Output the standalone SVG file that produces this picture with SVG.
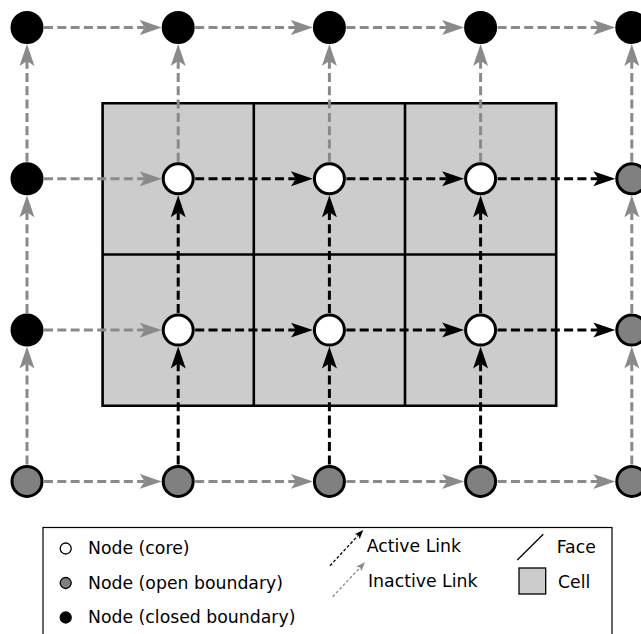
<svg xmlns="http://www.w3.org/2000/svg" width="641" height="634" viewBox="0 0 641 634">
<style>
.cell{fill:#cccccc;stroke:none}
.face{stroke:#000;stroke-width:2.6;fill:none}
.act{stroke:#000;stroke-width:3;stroke-dasharray:9 4.3;fill:none;marker-end:url(#ha)}
.ina{stroke:#8a8a8a;stroke-width:3;stroke-dasharray:9 4.3;fill:none;marker-end:url(#hi)}
.core{fill:#fff;stroke:#000;stroke-width:3}
.open{fill:#808080;stroke:#000;stroke-width:3}
.closed{fill:#000;stroke:#000;stroke-width:3}
.lt{font-family:"DejaVu Sans",sans-serif;font-size:17.3px;fill:#000}
</style>
<defs>
<marker id="ha" markerUnits="userSpaceOnUse" viewBox="0 0 23 16" markerWidth="23" markerHeight="16" refX="5" refY="8" orient="auto"><path d="M0,0.5 L22,8 L0,15.5 L5,8 Z" fill="#000"/></marker>
<marker id="hi" markerUnits="userSpaceOnUse" viewBox="0 0 23 16" markerWidth="23" markerHeight="16" refX="5" refY="8" orient="auto"><path d="M0,0.5 L22,8 L0,15.5 L5,8 Z" fill="#8a8a8a"/></marker>
<marker id="sa" markerUnits="userSpaceOnUse" viewBox="0 0 9 7" markerWidth="9" markerHeight="7" refX="2" refY="3.5" orient="auto"><path d="M0,0 L9,3.5 L0,7 L2,3.5 Z" fill="#000"/></marker>
<marker id="si" markerUnits="userSpaceOnUse" viewBox="0 0 9 7" markerWidth="9" markerHeight="7" refX="2" refY="3.5" orient="auto"><path d="M0,0 L9,3.5 L0,7 L2,3.5 Z" fill="#8a8a8a"/></marker>
</defs>
<rect width="641" height="634" fill="#fff"/>
<g id="cells">
<rect class="cell" x="102.6" y="103.2" width="453.6" height="302.6"/>
<path class="face" d="M102.6,103.2 H556.2 V405.8 H102.6 Z M253.8,103.2 V405.8 M405,103.2 V405.8 M102.6,254.5 H556.2"/>
</g>
<g id="connectors">
<line class="ina" x1="44" y1="27.5" x2="144.7" y2="27.5"/>
<line class="ina" x1="195.2" y1="27.5" x2="295.9" y2="27.5"/>
<line class="ina" x1="346.4" y1="27.5" x2="447.1" y2="27.5"/>
<line class="ina" x1="497.6" y1="27.5" x2="598.3" y2="27.5"/>
<line class="ina" x1="44" y1="178.8" x2="144.7" y2="178.8"/>
<line class="act" x1="195.2" y1="178.8" x2="295.9" y2="178.8"/>
<line class="act" x1="346.4" y1="178.8" x2="447.1" y2="178.8"/>
<line class="act" x1="497.6" y1="178.8" x2="598.3" y2="178.8"/>
<line class="ina" x1="44" y1="330.1" x2="144.7" y2="330.1"/>
<line class="act" x1="195.2" y1="330.1" x2="295.9" y2="330.1"/>
<line class="act" x1="346.4" y1="330.1" x2="447.1" y2="330.1"/>
<line class="act" x1="497.6" y1="330.1" x2="598.3" y2="330.1"/>
<line class="ina" x1="44" y1="481.4" x2="144.7" y2="481.4"/>
<line class="ina" x1="195.2" y1="481.4" x2="295.9" y2="481.4"/>
<line class="ina" x1="346.4" y1="481.4" x2="447.1" y2="481.4"/>
<line class="ina" x1="497.6" y1="481.4" x2="598.3" y2="481.4"/>
<line class="ina" x1="27" y1="161.8" x2="27" y2="61"/>
<line class="ina" x1="27" y1="313.1" x2="27" y2="212.3"/>
<line class="ina" x1="27" y1="464.4" x2="27" y2="363.6"/>
<line class="ina" x1="178.2" y1="161.8" x2="178.2" y2="61"/>
<line class="act" x1="178.2" y1="313.1" x2="178.2" y2="212.3"/>
<line class="act" x1="178.2" y1="464.4" x2="178.2" y2="363.6"/>
<line class="ina" x1="329.4" y1="161.8" x2="329.4" y2="61"/>
<line class="act" x1="329.4" y1="313.1" x2="329.4" y2="212.3"/>
<line class="act" x1="329.4" y1="464.4" x2="329.4" y2="363.6"/>
<line class="ina" x1="480.6" y1="161.8" x2="480.6" y2="61"/>
<line class="act" x1="480.6" y1="313.1" x2="480.6" y2="212.3"/>
<line class="act" x1="480.6" y1="464.4" x2="480.6" y2="363.6"/>
<line class="ina" x1="631.8" y1="161.8" x2="631.8" y2="61"/>
<line class="ina" x1="631.8" y1="313.1" x2="631.8" y2="212.3"/>
<line class="ina" x1="631.8" y1="464.4" x2="631.8" y2="363.6"/>
</g>
<g id="nodes">
<g id="n00"><circle class="closed" cx="27" cy="27.5" r="15"/></g>
<g id="n01"><circle class="closed" cx="178.2" cy="27.5" r="15"/></g>
<g id="n02"><circle class="closed" cx="329.4" cy="27.5" r="15"/></g>
<g id="n03"><circle class="closed" cx="480.6" cy="27.5" r="15"/></g>
<g id="n04"><circle class="closed" cx="631.8" cy="27.5" r="15"/></g>
<g id="n10"><circle class="closed" cx="27" cy="178.8" r="15"/></g>
<g id="n11"><circle class="core" cx="178.2" cy="178.8" r="15"/></g>
<g id="n12"><circle class="core" cx="329.4" cy="178.8" r="15"/></g>
<g id="n13"><circle class="core" cx="480.6" cy="178.8" r="15"/></g>
<g id="n14"><circle class="open" cx="631.8" cy="178.8" r="15"/></g>
<g id="n20"><circle class="closed" cx="27" cy="330.1" r="15"/></g>
<g id="n21"><circle class="core" cx="178.2" cy="330.1" r="15"/></g>
<g id="n22"><circle class="core" cx="329.4" cy="330.1" r="15"/></g>
<g id="n23"><circle class="core" cx="480.6" cy="330.1" r="15"/></g>
<g id="n24"><circle class="open" cx="631.8" cy="330.1" r="15"/></g>
<g id="n30"><circle class="open" cx="27" cy="481.4" r="15"/></g>
<g id="n31"><circle class="open" cx="178.2" cy="481.4" r="15"/></g>
<g id="n32"><circle class="open" cx="329.4" cy="481.4" r="15"/></g>
<g id="n33"><circle class="open" cx="480.6" cy="481.4" r="15"/></g>
<g id="n34"><circle class="open" cx="631.8" cy="481.4" r="15"/></g>
</g>
<g id="legend">
<rect x="43" y="527.5" width="569" height="120" fill="#fff" stroke="#000" stroke-width="1.2"/>
<circle cx="65.7" cy="548.5" r="5.5" fill="#fff" stroke="#000" stroke-width="1.3"/>
<text class="lt" x="88" y="554">Node (core)</text>
<circle cx="65.7" cy="583" r="5.5" fill="#808080" stroke="#000" stroke-width="1.3"/>
<text class="lt" x="88" y="588.5">Node (open boundary)</text>
<circle cx="65.7" cy="617.5" r="5.5" fill="#000" stroke="#000" stroke-width="1.3"/>
<text class="lt" x="88" y="623">Node (closed boundary)</text>
<line x1="330" y1="565.7" x2="358.5" y2="535.1" stroke="#000" stroke-width="1.3" stroke-dasharray="3 2" marker-end="url(#sa)"/>
<text class="lt" x="366.7" y="552">Active Link</text>
<line x1="332.7" y1="596.7" x2="360.2" y2="567.4" stroke="#8a8a8a" stroke-width="1.3" stroke-dasharray="3 2" marker-end="url(#si)"/>
<text class="lt" x="368" y="587">Inactive Link</text>
<line x1="517.3" y1="560" x2="543.3" y2="534.3" stroke="#000" stroke-width="1.3"/>
<text class="lt" x="556.7" y="553">Face</text>
<rect x="519" y="568" width="26.7" height="26" fill="#cccccc" stroke="#000" stroke-width="1.3"/>
<text class="lt" x="558" y="588">Cell</text>
</g>
</svg>
